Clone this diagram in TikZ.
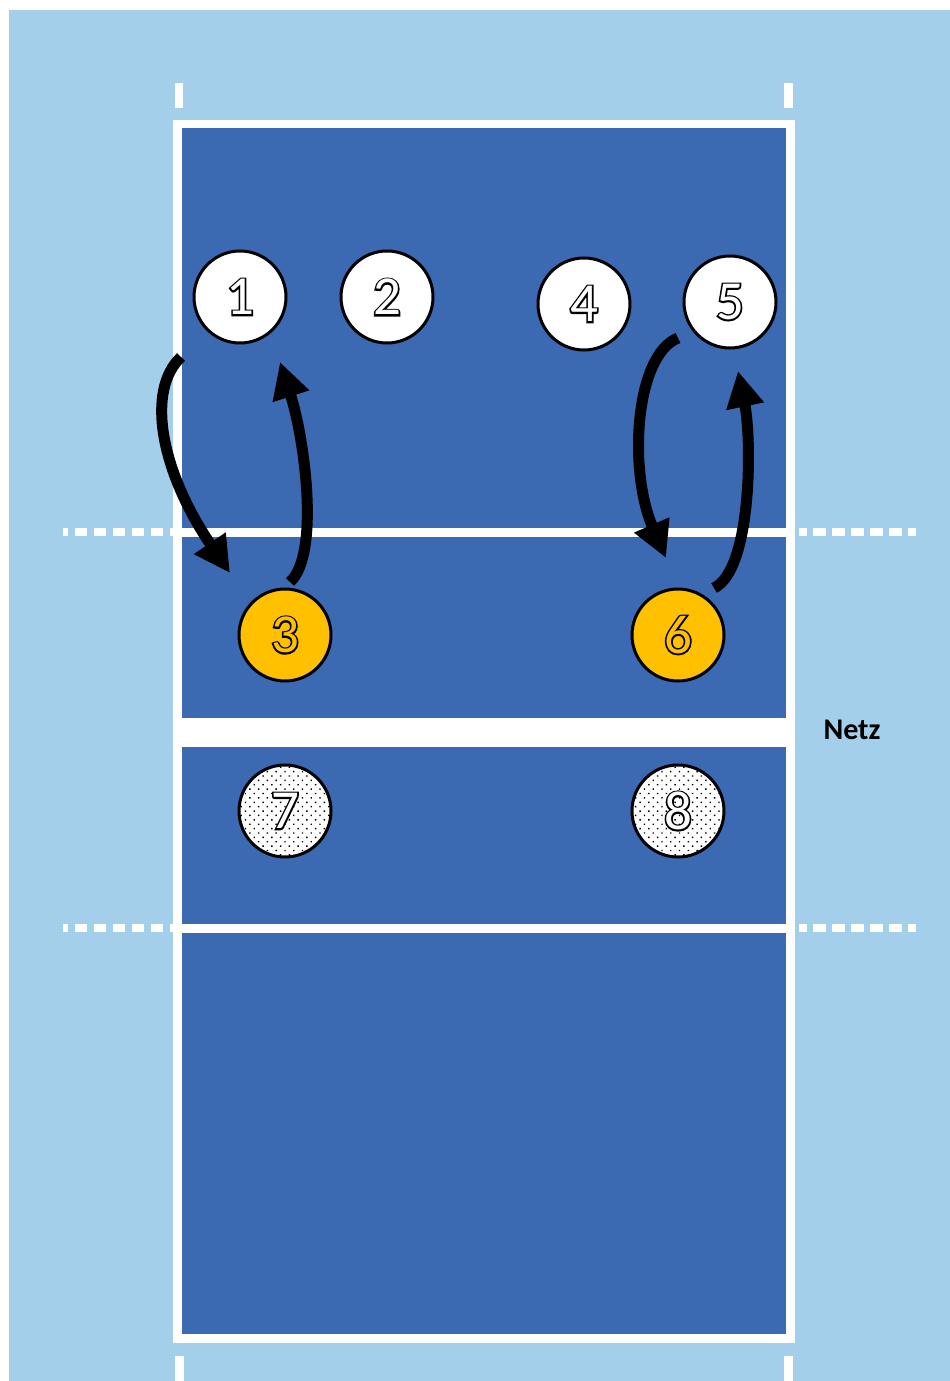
\documentclass[tikz,border=0pt]{standalone}
\usepackage{fontspec}
\setmainfont{Carlito}
\newfontfamily\digf{Carlito}
\newfontfamily\digfb[FakeBold=6]{Carlito}
\usetikzlibrary{arrows.meta,patterns.meta}
\definecolor{bglight}{HTML}{A3CFEA}
\definecolor{courtblue}{HTML}{3B69B2}
\definecolor{gold}{HTML}{FFC000}
\newcommand\hollow[2]{\fontsize{55}{55}\selectfont\makebox[0pt]{\digfb\color{black}#1}\makebox[0pt]{\digf\color{#2}#1}}
\begin{document}
\begin{tikzpicture}[x=1pt,y=-1pt,
  plbase/.style={circle,draw=black,line width=3pt,minimum size=92pt,inner sep=0pt},
  player/.style={plbase,fill=white},
  plgold/.style={plbase,fill=gold},
  pldot/.style={plbase,preaction={fill=white},pattern={Dots[distance=6.2pt,angle=45,radius=1pt]},pattern color=black},
  dashline/.style={white,line width=8.5pt,dash pattern=on 12.5pt off 6.5pt},
  mvarrow/.style={black,line width=11pt,-{Triangle[length=36pt,width=36pt]}},
  netlabel/.style={font=\bfseries\fontsize{30}{30}\selectfont,text=black}]
\useasboundingbox (0,0) rectangle (950,1381);
\fill[white] (0,0) rectangle (950,1381);
\fill[bglight] (9,10) rectangle (950,1381);
% ticks
\fill[white] (175,83) rectangle (183,108);
\fill[white] (784,83) rectangle (793,108);
\fill[white] (175,1356) rectangle (184,1381);
\fill[white] (784,1356) rectangle (793,1381);
% court
\fill[white] (173,120) rectangle (795,1343);
\fill[courtblue] (182,128) rectangle (786,1334);
% attack lines and net
\fill[white] (173,528) rectangle (795,536.5);
\fill[white] (173,924) rectangle (795,932.5);
\fill[white] (173,718) rectangle (786,747);
% dashed extensions
\draw[dashline,dash phase=7pt] (175,532.2) -- (63,532.2);
\draw[dashline,dash phase=5pt] (799,532.2) -- (916,532.2);
\draw[dashline,dash phase=7pt] (175,928.2) -- (63,928.2);
\draw[dashline,dash phase=5pt] (799,928.2) -- (916,928.2);
% label
\node[netlabel] (netz) at (852,730) {Netz};
% players
\node[player] (p1) at (240,297) {\hollow{1}{white}};
\node[player] (p2) at (387,297) {\hollow{2}{white}};
\node[player] (p4) at (584,304) {\hollow{4}{white}};
\node[player] (p5) at (730,302) {\hollow{5}{white}};
\node[plgold] (p3) at (285,635) {\hollow{3}{gold}};
\node[plgold] (p6) at (678,635) {\hollow{6}{gold}};
\node[pldot] (p7) at (285,811) {\hollow{7}{white}};
\node[pldot] (p8) at (678,811) {\hollow{8}{white}};
% arrows
\coordinate (a1s) at (181,357);
\coordinate (a1e) at (230,573);
\coordinate (a2s) at (290,582);
\coordinate (a2e) at (280,362);
\coordinate (a3s) at (678,338);
\coordinate (a3e) at (666,558);
\coordinate (a4s) at (714,588);
\coordinate (a4e) at (738,371);
\draw[mvarrow] (a1s) .. controls (146,390) and (160,470) .. (a1e);
\draw[mvarrow] (a2s) .. controls (320,555) and (305,440) .. (a2e);
\draw[mvarrow] (a3s) .. controls (635,355) and (628,470) .. (a3e);
\draw[mvarrow] (a4s) .. controls (752,570) and (752,440) .. (a4e);
\end{tikzpicture}
\end{document}
